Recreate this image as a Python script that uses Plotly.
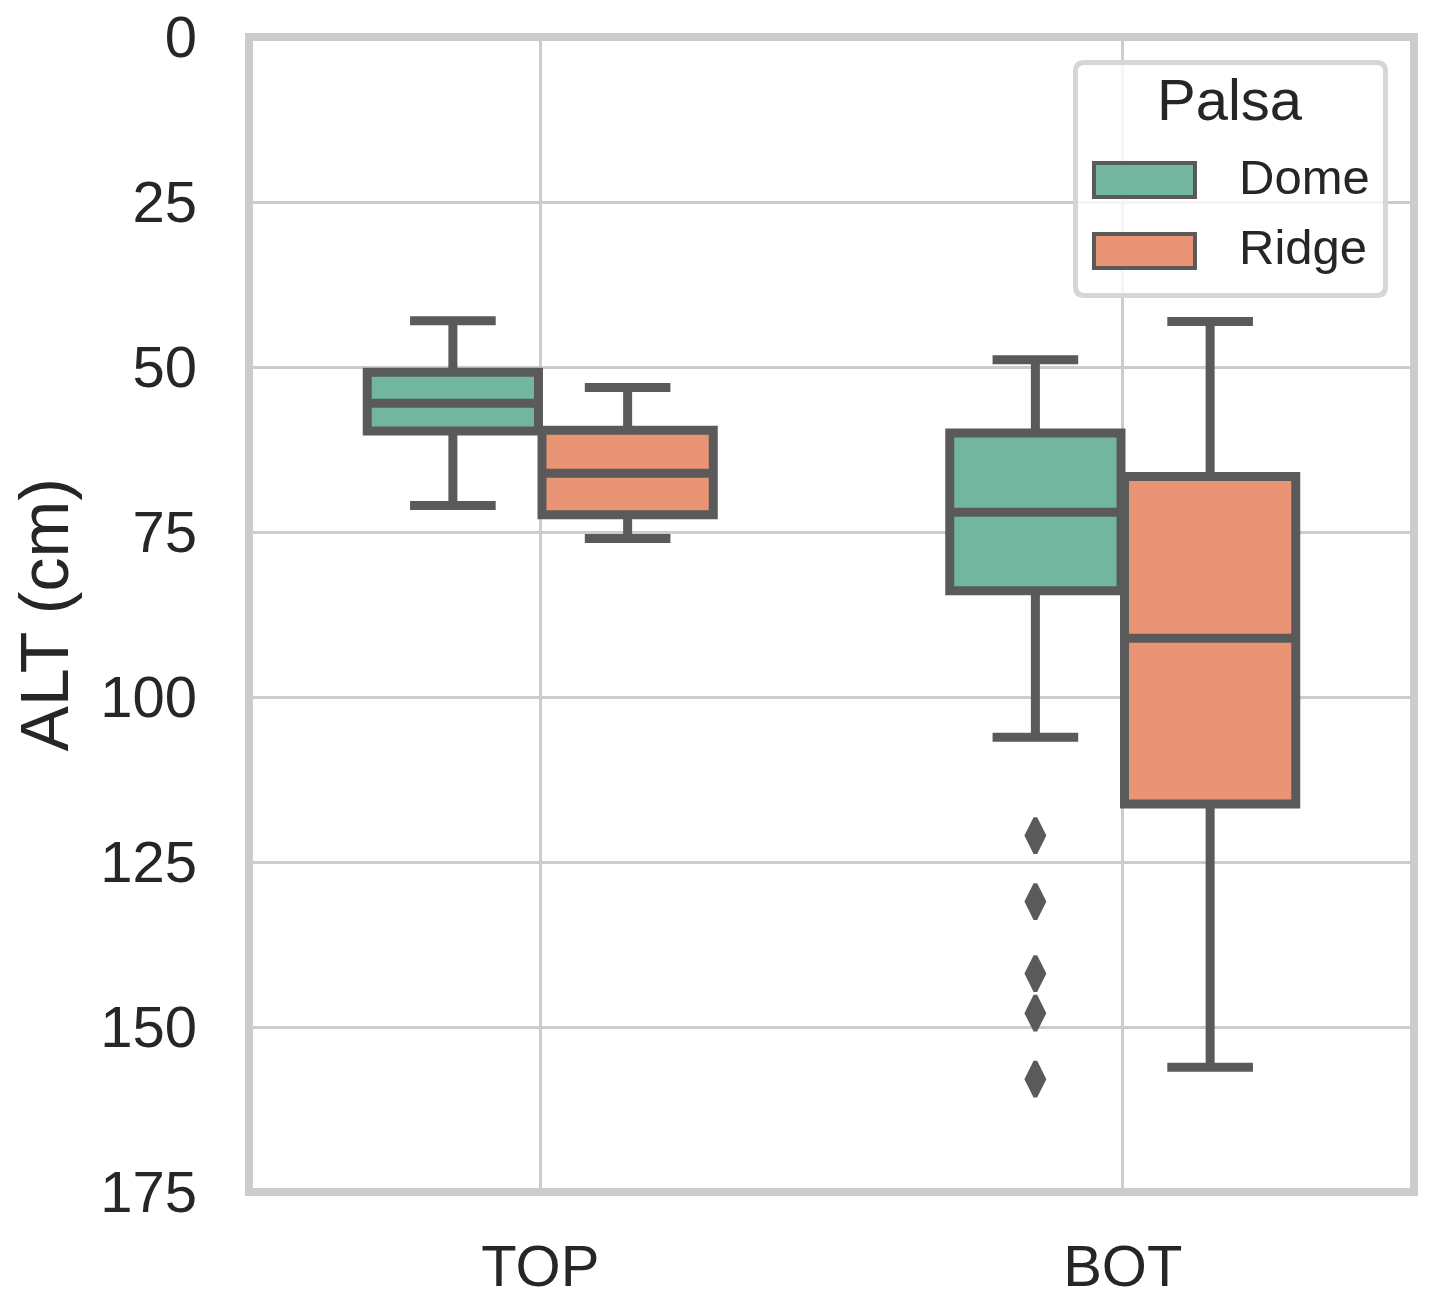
import plotly.graph_objects as go

# ---------------- data ----------------
categories = ["TOP", "BOT"]
hues = ["Dome", "Ridge"]
hue_colors = ["#72b6a0", "#e99575"]

# box statistics, one value per category (TOP, BOT)
dome_whisker_low = [43.0, 48.9]
dome_q1 = [50.8, 60.0]
dome_median = [55.5, 72.0]
dome_q3 = [59.7, 83.9]
dome_whisker_high = [71.0, 106.1]

ridge_whisker_low = [53.1, 43.1]
ridge_q1 = [59.6, 66.6]
ridge_median = [66.1, 91.1]
ridge_q3 = [72.4, 116.2]
ridge_whisker_high = [76.0, 156.1]

# outliers (BOT, Dome)
dome_bot_outliers = [121.0, 131.0, 141.9, 147.9, 157.9]

y_ticks = [0, 25, 50, 75, 100, 125, 150, 175]

# ---------------- styling ----------------
FONT = "Liberation Sans, Arial, sans-serif"
TXT = "#262626"
EDGE = "#5a5a5a"
GRID = "#cccccc"
group_width = 0.6
n_h = len(hues)
each_w = group_width / n_h
offsets = [-(group_width - each_w) / 2 + i * each_w for i in range(n_h)]
box_w = each_w * 0.98

stats = {
    "Dome": (dome_whisker_low, dome_q1, dome_median, dome_q3, dome_whisker_high),
    "Ridge": (ridge_whisker_low, ridge_q1, ridge_median, ridge_q3, ridge_whisker_high),
}

fig = go.Figure()
for hi, hue in enumerate(hues):
    lo, q1, med, q3, hi_w = stats[hue]
    xs = [ci + offsets[hi] for ci in range(len(categories))]
    fig.add_trace(go.Box(
        x=xs, q1=q1, median=med, q3=q3, lowerfence=lo, upperfence=hi_w,
        width=box_w, whiskerwidth=0.5,
        fillcolor=hue_colors[hi], line=dict(color=EDGE, width=9),
        name=hue, showlegend=False, boxpoints=False, hoverinfo="skip",
    ))

bot_i = categories.index("BOT")
dome_i = hues.index("Dome")
fig.add_trace(go.Scatter(
    x=[bot_i + offsets[dome_i]] * len(dome_bot_outliers), y=dome_bot_outliers,
    mode="markers",
    marker=dict(symbol="diamond-tall", size=25, color=EDGE, line=dict(width=4, color=EDGE)),
    showlegend=False, hoverinfo="skip",
))

fig.update_layout(
    width=1434, height=1306,
    margin=dict(l=249, r=20, t=37, b=114),
    paper_bgcolor="white", plot_bgcolor="white",
    font=dict(family=FONT, color=TXT, size=58),
    showlegend=False, boxmode="overlay",
)
fig.update_xaxes(
    range=[-0.5, len(categories) - 0.5],
    tickvals=list(range(len(categories))), ticktext=categories,
    tickfont=dict(size=58, family=FONT, color=TXT),
    showgrid=True, gridcolor=GRID, gridwidth=2.5,
    showline=False, ticks="", ticklabelstandoff=35, zeroline=False,
    automargin=False, ticklabeloverflow="allow",
)
fig.update_yaxes(
    range=[175, 0], tickvals=y_ticks, ticktext=[str(v) for v in y_ticks],
    tickfont=dict(size=58, family=FONT, color=TXT),
    showgrid=True, gridcolor=GRID, gridwidth=2.5,
    showline=False, ticks="", ticklabelstandoff=51, zeroline=False,
    automargin=False, ticklabeloverflow="allow",
)

# frame (spines centred on the plot edges)
fig.add_shape(type="rect", xref="paper", yref="paper", x0=0, x1=1, y0=0, y1=1,
              line=dict(color=GRID, width=8), fillcolor="rgba(0,0,0,0)", layer="above")

# y-axis title
fig.add_annotation(
    text="ALT (cm)", xref="paper", yref="paper", x=-0.176, y=0.5,
    xanchor="center", yanchor="middle", textangle=-90, showarrow=False,
    font=dict(size=68, family=FONT, color=TXT),
)

# ---------------- legend (drawn manually to match patch size) ----------------
def rounded_rect(x0, y0, x1, y1, rx, ry):
    return (f"M{x0+rx},{y0} L{x1-rx},{y0} Q{x1},{y0} {x1},{y0+ry} "
            f"L{x1},{y1-ry} Q{x1},{y1} {x1-rx},{y1} L{x0+rx},{y1} "
            f"Q{x0},{y1} {x0},{y1-ry} L{x0},{y0+ry} Q{x0},{y0} {x0+rx},{y0} Z")

fig.add_shape(type="path", xref="paper", yref="paper",
              path=rounded_rect(0.7094, 0.7762, 0.9755, 0.9779, 9 / 1165, 9 / 1155),
              line=dict(color="#d6d6d6", width=5), fillcolor="rgba(255,255,255,0.8)",
              layer="above")
fig.add_annotation(text="Palsa", xref="paper", yref="paper", x=0.8424, y=0.9459,
                   xanchor="center", yanchor="middle", showarrow=False,
                   font=dict(size=58, family=FONT, color=TXT))
patch_y = [(0.8615, 0.8909), (0.8000, 0.8294)]
text_y = [0.8788, 0.8182]
for i, hue in enumerate(hues):
    fig.add_shape(type="rect", xref="paper", yref="paper",
                  x0=0.7253, x1=0.8120, y0=patch_y[i][0], y1=patch_y[i][1],
                  line=dict(color=EDGE, width=4), fillcolor=hue_colors[i], layer="above")
    fig.add_annotation(text=hue, xref="paper", yref="paper", x=0.8481, y=text_y[i],
                       xanchor="left", yanchor="middle", showarrow=False,
                       font=dict(size=49, family=FONT, color=TXT))

fig.write_html("out.html", config={"displayModeBar": False},
               post_script="document.body.style.margin='0';")
